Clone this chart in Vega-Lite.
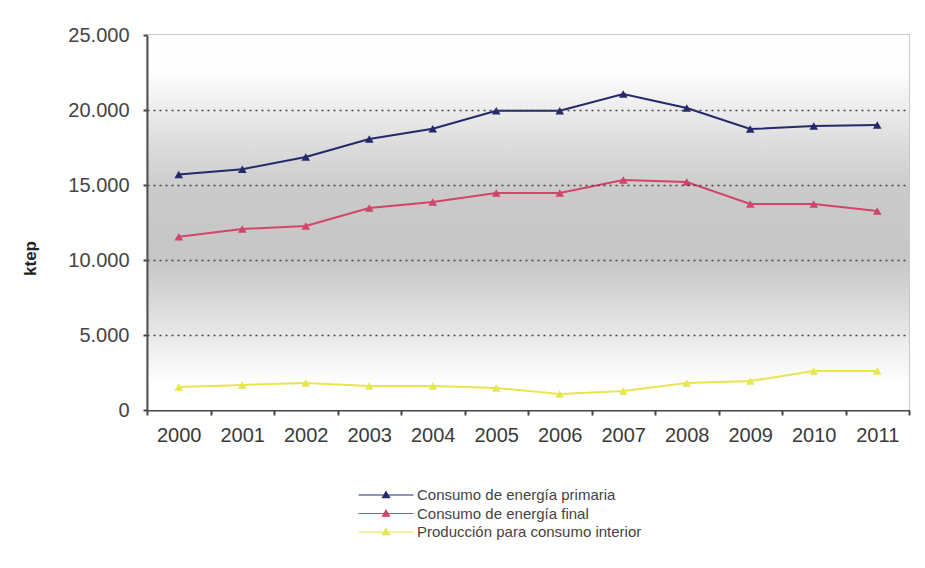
{
  "$schema": "https://vega.github.io/schema/vega-lite/v6.json",
  "width": 762,
  "height": 375,
  "autosize": "none",
  "padding": {"left": 147, "top": 35, "right": 16, "bottom": 158},
  "background": "#ffffff",
  "config": {
    "locale": {"number": {"decimal": ",", "thousands": ".", "grouping": [3], "currency": ["", " €"]}},
    "font": "Liberation Sans",
    "view": {"stroke": "#b8b8b8", "strokeWidth": 1.5}
  },
  "data": {
    "values": [
      {"year": "2000", "series": "Consumo de energía primaria", "value": 15700},
      {"year": "2001", "series": "Consumo de energía primaria", "value": 16050},
      {"year": "2002", "series": "Consumo de energía primaria", "value": 16870},
      {"year": "2003", "series": "Consumo de energía primaria", "value": 18070},
      {"year": "2004", "series": "Consumo de energía primaria", "value": 18750},
      {"year": "2005", "series": "Consumo de energía primaria", "value": 19950},
      {"year": "2006", "series": "Consumo de energía primaria", "value": 19950},
      {"year": "2007", "series": "Consumo de energía primaria", "value": 21070},
      {"year": "2008", "series": "Consumo de energía primaria", "value": 20130},
      {"year": "2009", "series": "Consumo de energía primaria", "value": 18730},
      {"year": "2010", "series": "Consumo de energía primaria", "value": 18930},
      {"year": "2011", "series": "Consumo de energía primaria", "value": 19000},
      {"year": "2000", "series": "Consumo de energía final", "value": 11550},
      {"year": "2001", "series": "Consumo de energía final", "value": 12070},
      {"year": "2002", "series": "Consumo de energía final", "value": 12270},
      {"year": "2003", "series": "Consumo de energía final", "value": 13470},
      {"year": "2004", "series": "Consumo de energía final", "value": 13870},
      {"year": "2005", "series": "Consumo de energía final", "value": 14470},
      {"year": "2006", "series": "Consumo de energía final", "value": 14470},
      {"year": "2007", "series": "Consumo de energía final", "value": 15330},
      {"year": "2008", "series": "Consumo de energía final", "value": 15200},
      {"year": "2009", "series": "Consumo de energía final", "value": 13730},
      {"year": "2010", "series": "Consumo de energía final", "value": 13730},
      {"year": "2011", "series": "Consumo de energía final", "value": 13270},
      {"year": "2000", "series": "Producción para consumo interior", "value": 1530},
      {"year": "2001", "series": "Producción para consumo interior", "value": 1670},
      {"year": "2002", "series": "Producción para consumo interior", "value": 1800},
      {"year": "2003", "series": "Producción para consumo interior", "value": 1600},
      {"year": "2004", "series": "Producción para consumo interior", "value": 1600},
      {"year": "2005", "series": "Producción para consumo interior", "value": 1470},
      {"year": "2006", "series": "Producción para consumo interior", "value": 1070},
      {"year": "2007", "series": "Producción para consumo interior", "value": 1270},
      {"year": "2008", "series": "Producción para consumo interior", "value": 1800},
      {"year": "2009", "series": "Producción para consumo interior", "value": 1930},
      {"year": "2010", "series": "Producción para consumo interior", "value": 2600},
      {"year": "2011", "series": "Producción para consumo interior", "value": 2600}
    ]
  },
  "layer": [
    {
      "mark": {
        "type": "rect",
        "fill": {
          "gradient": "linear", "x1": 0, "y1": 0, "x2": 0, "y2": 1,
          "stops": [
            {"offset": 0, "color": "#ffffff"},
            {"offset": 0.1, "color": "#fdfdfd"},
            {"offset": 0.28, "color": "#dedede"},
            {"offset": 0.42, "color": "#cacaca"},
            {"offset": 0.6, "color": "#c6c6c6"},
            {"offset": 0.8, "color": "#e8e8e8"},
            {"offset": 0.93, "color": "#ffffff"},
            {"offset": 1, "color": "#ffffff"}
          ]
        }
      },
      "encoding": {
        "y": {"datum": 0, "type": "quantitative", "scale": {"domain": [0, 25000], "nice": false}},
        "y2": {"datum": 25000}
      }
    },
    {
      "mark": {"type": "line", "strokeWidth": 2, "point": {"shape": "triangle-up", "size": 75, "filled": true}},
      "encoding": {
        "x": {
          "field": "year", "type": "ordinal",
          "scale": {"type": "band", "paddingInner": 0, "paddingOuter": 0},
          "axis": {
            "title": null, "labelAngle": 0, "labelFontSize": 20, "labelColor": "#3a3a3a",
            "labelPadding": 10, "tickBand": "extent", "tickSize": 5, "tickColor": "#444444", "tickWidth": 2,
            "domainColor": "#444444", "domainWidth": 2, "grid": false
          }
        },
        "y": {
          "field": "value", "type": "quantitative",
          "scale": {"domain": [0, 25000], "nice": false},
          "axis": {
            "zindex": 1,
            "title": "ktep", "titleFontSize": 17, "titleFontWeight": "bold", "titleColor": "#222222",
            "titlePadding": 28, "titleY": 223,
            "values": [0, 5000, 10000, 15000, 20000, 25000], "format": ",d",
            "labelFontSize": 20, "labelColor": "#444444", "labelPadding": 14,
            "tickSize": 4, "tickColor": "#444444", "tickWidth": 2,
            "domainColor": "#555555", "domainWidth": 2,
            "grid": true, "gridColor": "#444444", "gridDash": [2, 4], "gridWidth": 1.5,
            "gridOpacity": {"condition": {"test": "datum.value == 0 || datum.value == 25000", "value": 0}, "value": 1}
          }
        },
        "color": {
          "field": "series", "type": "nominal",
          "scale": {
            "domain": ["Consumo de energía primaria", "Consumo de energía final", "Producción para consumo interior"],
            "range": ["#25286a", "#d2446a", "#e6e64e"]
          },
          "legend": {
            "title": null, "orient": "none", "legendX": 229, "legendY": 450, "direction": "vertical",
            "symbolType": "M-3.05,0H3.05M-0.4,0.3L0,-0.38L0.4,0.3Z",
            "symbolSize": 324, "symbolStrokeWidth": 1.2,
            "labelFontSize": 15, "labelColor": "#444444", "labelOffset": 21, "labelLimit": 400, "rowPadding": 0.5,
            "encode": {"symbols": {"update": {"fill": {"scale": "color", "field": "value"}, "fillOpacity": {"value": 1}}}}
          }
        }
      }
    }
  ]
}
